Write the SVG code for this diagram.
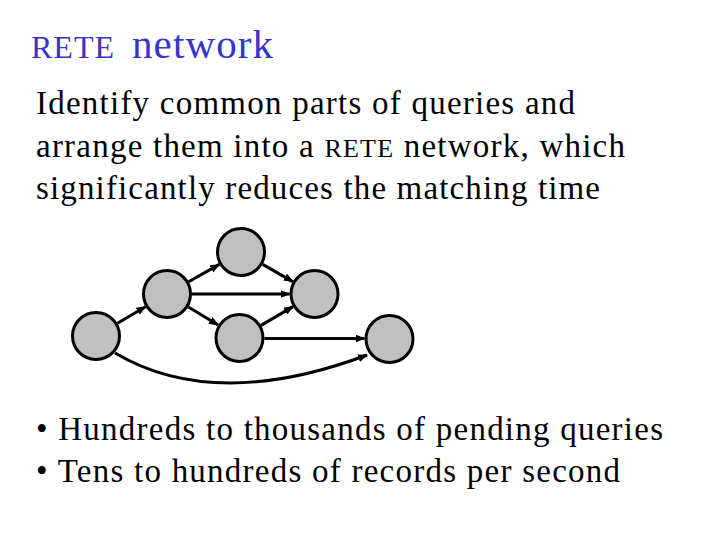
<svg xmlns="http://www.w3.org/2000/svg" width="720" height="540" viewBox="0 0 720 540">
<defs>
<style>
.node{fill:#c0c0c0;stroke:#000;stroke-width:3}
.edge{fill:none;stroke:#000;stroke-width:3;marker-end:url(#arr)}
</style>
<marker id="arr" markerUnits="userSpaceOnUse" markerWidth="10" markerHeight="8" refX="9" refY="4" orient="auto">
<path d="M0,0 L10,4 L0,8 Z" fill="#000"/>
</marker>
</defs>
<rect width="720" height="540" fill="#fff"/>
<g id="title" font-family="'Liberation Serif', 'Times New Roman', serif" fill="#3535cc">
<text x="31" y="58" font-size="32" textLength="83" lengthAdjust="spacing">RETE</text>
<text x="132" y="58" font-size="41" textLength="141" lengthAdjust="spacing">network</text>
</g>
<g id="text" font-family="'Liberation Serif', 'Times New Roman', serif" font-size="33" fill="#000">
<text x="36" y="114" textLength="539" lengthAdjust="spacing">Identify common parts of queries and</text>
<text x="36" y="157" textLength="589" lengthAdjust="spacing">arrange them into a <tspan font-size="26">RETE</tspan> network, which</text>
<text x="36" y="199" textLength="564" lengthAdjust="spacing">significantly reduces the matching time</text>
<text x="36" y="440" textLength="627" lengthAdjust="spacing">• Hundreds to thousands of pending queries</text>
<text x="36" y="482" textLength="584" lengthAdjust="spacing">• Tens to hundreds of records per second</text>
</g>
<g id="connectors">
<line class="edge" x1="117.5" y1="323.3" x2="145.5" y2="306.7"/>
<line class="edge" x1="188.7" y1="281.7" x2="219.3" y2="264.4"/>
<line class="edge" x1="192" y1="294" x2="289.5" y2="294"/>
<line class="edge" x1="188.4" y1="307" x2="218.1" y2="325"/>
<line class="edge" x1="262.7" y1="264.4" x2="292.8" y2="281.6"/>
<line class="edge" x1="261" y1="325.4" x2="293" y2="306.6"/>
<line class="edge" x1="264.5" y1="338.5" x2="364.5" y2="338.5"/>
<path class="edge" d="M115,353 Q215,412 367,355"/>
</g>
<g id="nodeA"><circle class="node" cx="96" cy="336" r="23.5"/></g>
<g id="nodeB"><circle class="node" cx="167" cy="294" r="23.5"/></g>
<g id="nodeC"><circle class="node" cx="241" cy="252" r="23.5"/></g>
<g id="nodeD"><circle class="node" cx="239.5" cy="338" r="23.5"/></g>
<g id="nodeE"><circle class="node" cx="314.5" cy="294" r="23.5"/></g>
<g id="nodeF"><circle class="node" cx="389.5" cy="339" r="23.5"/></g>
</svg>
